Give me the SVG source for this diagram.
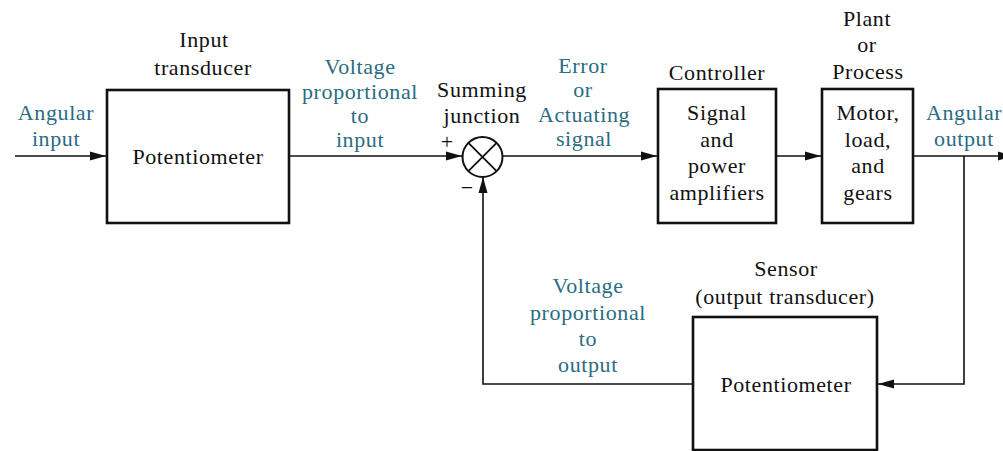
<svg xmlns="http://www.w3.org/2000/svg" width="1003" height="451" viewBox="0 0 1003 451">
<style>
.box{fill:none;stroke:#111;stroke-width:2.6}
.wire{fill:none;stroke:#111;stroke-width:1.6}
</style>
<defs>
<marker id="arr" markerUnits="userSpaceOnUse" markerWidth="16" markerHeight="10" refX="16" refY="5" orient="auto">
<path d="M0,0.5 L16,5 L0,9.5 z" fill="#111"/>
</marker>
</defs>
<rect width="1003" height="451" fill="#fff"/>

<g id="connectors">
<path class="wire" d="M15,156 H106" marker-end="url(#arr)"/>
<path class="wire" d="M289,156 H462" marker-end="url(#arr)"/>
<path class="wire" d="M503,156 H657" marker-end="url(#arr)"/>
<path class="wire" d="M776,156 H821" marker-end="url(#arr)"/>
<path class="wire" d="M913,156 H1014" marker-end="url(#arr)"/>
<path class="wire" d="M964,156 V384 H878" marker-end="url(#arr)"/>
<path class="wire" d="M693,384 H483 V177" marker-end="url(#arr)"/>
</g>

<g id="input-labels" text-anchor="middle" fill="#2a6c82">
<text font-family="Liberation Serif" font-size="22" letter-spacing="0.6" x="56" y="120">Angular</text>
<text font-family="Liberation Serif" font-size="22" letter-spacing="0.6" x="56" y="146">input</text>
</g>

<g id="input-transducer" text-anchor="middle" fill="#111">
<text font-family="Liberation Serif" font-size="22" letter-spacing="0.6" x="204" y="47">Input</text>
<text font-family="Liberation Serif" font-size="22" letter-spacing="0.6" x="203" y="75">transducer</text>
<rect class="box" x="107" y="90" width="182" height="133"/>
<text font-family="Liberation Serif" font-size="22" letter-spacing="0.6" x="198" y="164">Potentiometer</text>
</g>

<g id="voltage-input-label" text-anchor="middle" fill="#2a6c82">
<text font-family="Liberation Serif" font-size="22" letter-spacing="0.6" x="360" y="74">Voltage</text>
<text font-family="Liberation Serif" font-size="22" letter-spacing="0.6" x="360" y="99">proportional</text>
<text font-family="Liberation Serif" font-size="22" letter-spacing="0.6" x="360" y="123">to</text>
<text font-family="Liberation Serif" font-size="22" letter-spacing="0.6" x="360" y="147">input</text>
</g>

<g id="summing-junction" text-anchor="middle" fill="#111">
<text font-family="Liberation Serif" font-size="22" letter-spacing="0.6" x="482" y="97">Summing</text>
<text font-family="Liberation Serif" font-size="22" letter-spacing="0.6" x="482" y="123">junction</text>
<circle cx="482.5" cy="157" r="20" fill="none" stroke="#111" stroke-width="2"/>
<path d="M468.4,142.9 L496.6,171.1 M496.6,142.9 L468.4,171.1" stroke="#111" stroke-width="1.8"/>
<text font-family="Liberation Serif" font-size="22" x="447" y="149">+</text>
<text font-family="Liberation Serif" font-size="22" x="467" y="195">&#8722;</text>
</g>

<g id="error-label" text-anchor="middle" fill="#2a6c82">
<text font-family="Liberation Serif" font-size="22" letter-spacing="0.6" x="583" y="73">Error</text>
<text font-family="Liberation Serif" font-size="22" letter-spacing="0.6" x="583" y="97">or</text>
<text font-family="Liberation Serif" font-size="22" letter-spacing="0.6" x="584" y="122">Actuating</text>
<text font-family="Liberation Serif" font-size="22" letter-spacing="0.6" x="584" y="146">signal</text>
</g>

<g id="controller" text-anchor="middle" fill="#111">
<text font-family="Liberation Serif" font-size="22" letter-spacing="0.6" x="717" y="80">Controller</text>
<rect class="box" x="658" y="89" width="118" height="134"/>
<text font-family="Liberation Serif" font-size="22" letter-spacing="0.6" x="717" y="120">Signal</text>
<text font-family="Liberation Serif" font-size="22" letter-spacing="0.6" x="717" y="147">and</text>
<text font-family="Liberation Serif" font-size="22" letter-spacing="0.6" x="717" y="173">power</text>
<text font-family="Liberation Serif" font-size="22" letter-spacing="0.6" x="717" y="200">amplifiers</text>
</g>

<g id="plant" text-anchor="middle" fill="#111">
<text font-family="Liberation Serif" font-size="22" letter-spacing="0.6" x="867" y="26">Plant</text>
<text font-family="Liberation Serif" font-size="22" letter-spacing="0.6" x="867" y="52">or</text>
<text font-family="Liberation Serif" font-size="22" letter-spacing="0.6" x="868" y="79">Process</text>
<rect class="box" x="822" y="89" width="91" height="134"/>
<text font-family="Liberation Serif" font-size="22" letter-spacing="0.6" x="868" y="120">Motor,</text>
<text font-family="Liberation Serif" font-size="22" letter-spacing="0.6" x="868" y="147">load,</text>
<text font-family="Liberation Serif" font-size="22" letter-spacing="0.6" x="868" y="173">and</text>
<text font-family="Liberation Serif" font-size="22" letter-spacing="0.6" x="868" y="200">gears</text>
</g>

<g id="output-labels" fill="#2a6c82">
<text font-family="Liberation Serif" font-size="22" letter-spacing="0.6" x="926" y="120" text-anchor="start">Angular</text>
<text font-family="Liberation Serif" font-size="22" letter-spacing="0.6" x="964" y="146" text-anchor="middle">output</text>
</g>

<g id="sensor" text-anchor="middle" fill="#111">
<text font-family="Liberation Serif" font-size="22" letter-spacing="0.6" x="786" y="276">Sensor</text>
<text font-family="Liberation Serif" font-size="22" letter-spacing="0.6" x="785" y="304">(output transducer)</text>
<rect class="box" x="693" y="317" width="184" height="133"/>
<text font-family="Liberation Serif" font-size="22" letter-spacing="0.6" x="786" y="392">Potentiometer</text>
</g>

<g id="voltage-output-label" text-anchor="middle" fill="#2a6c82">
<text font-family="Liberation Serif" font-size="22" letter-spacing="0.6" x="588" y="293">Voltage</text>
<text font-family="Liberation Serif" font-size="22" letter-spacing="0.6" x="588" y="320">proportional</text>
<text font-family="Liberation Serif" font-size="22" letter-spacing="0.6" x="588" y="346">to</text>
<text font-family="Liberation Serif" font-size="22" letter-spacing="0.6" x="588" y="372">output</text>
</g>
</svg>
